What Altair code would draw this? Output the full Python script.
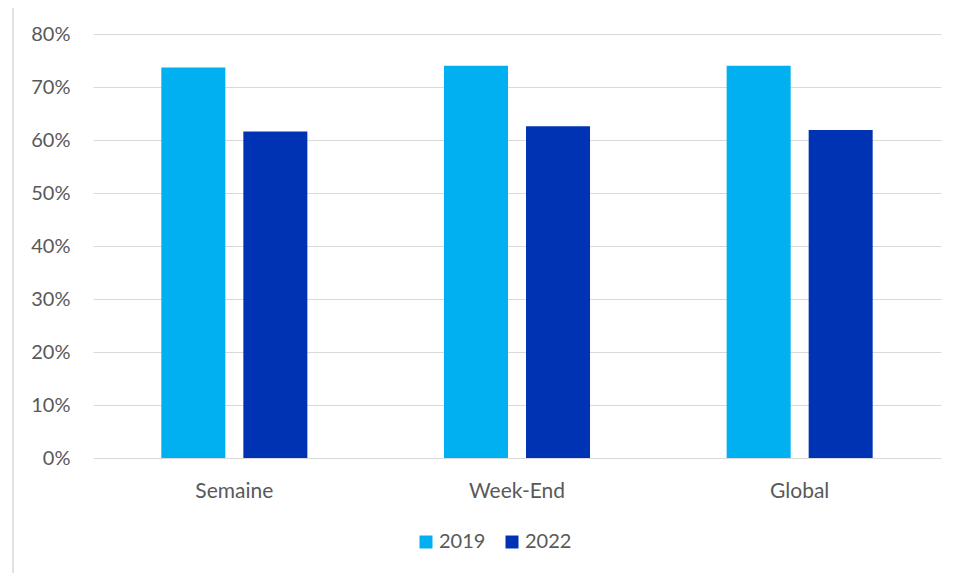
import altair as alt
import pandas as pd

categories = ["Semaine", "Week-End", "Global"]
series = ["2019", "2022"]
values_2019 = [0.737, 0.740, 0.740]
values_2022 = [0.616, 0.626, 0.619]

rows = []
for i, c in enumerate(categories):
    rows.append({"cat": c, "year": "2019", "value": values_2019[i]})
    rows.append({"cat": c, "year": "2022", "value": values_2022[i]})
df = pd.DataFrame(rows)

FONT = "Lato"
GRAY = "#595959"
BORDER = "#D9D9D9"

bars = alt.Chart(df).mark_bar().encode(
    x=alt.X("cat:N", sort=categories, title=None,
            scale=alt.Scale(paddingInner=0, paddingOuter=0),
            axis=alt.Axis(labelAngle=0, labelPadding=22, ticks=False, labelFontSize=21,
                          domain=False, grid=False)),
    xOffset=alt.XOffset("year:N", sort=series,
                        scale=alt.Scale(paddingInner=0.2195, paddingOuter=0.833)),
    y=alt.Y("value:Q", title=None,
            scale=alt.Scale(domain=[0, 0.8]),
            axis=alt.Axis(format=".0%", values=[0, 0.1, 0.2, 0.3, 0.4, 0.5, 0.6, 0.7, 0.8],
                          ticks=False, domain=False, labelPadding=23,
                          gridColor="#D9D9D9", gridWidth=1)),
    color=alt.Color("year:N", sort=series,
                    scale=alt.Scale(domain=series, range=["#00B0F0", "#0033B4"]),
                    legend=alt.Legend(title=None, orient="none", direction="horizontal",
                                      legendX=323, legendY=498, symbolType="square",
                                      symbolSize=169, symbolStrokeWidth=0,
                                      labelFontSize=20, labelColor=GRAY, labelFont=FONT,
                                      labelOffset=3, columnPadding=16,
                                      symbolOffset=0, padding=0)),
)

frame = pd.DataFrame({"k": [0]})
left_edge = alt.Chart(frame).mark_rule(color=BORDER, strokeWidth=1.5).encode(
    x=alt.value(-80), y=alt.value(-29), y2=alt.value(560)
)
top_edge = alt.Chart(frame).mark_rule(color=BORDER, strokeWidth=1.5).encode(
    x=alt.value(-80), x2=alt.value(870), y=alt.value(-29)
)

chart = alt.layer(bars, left_edge, top_edge).properties(
    width=848, height=424,
    padding={"left": 85, "top": 26, "right": 4, "bottom": 130},
    autosize=alt.AutoSizeParams(type="none"),
    background="white",
).configure_view(stroke=None).configure_axis(
    labelFont=FONT, labelFontSize=20, labelColor=GRAY
)

chart.save("out.html", embed_options={"renderer": "svg", "actions": False})
